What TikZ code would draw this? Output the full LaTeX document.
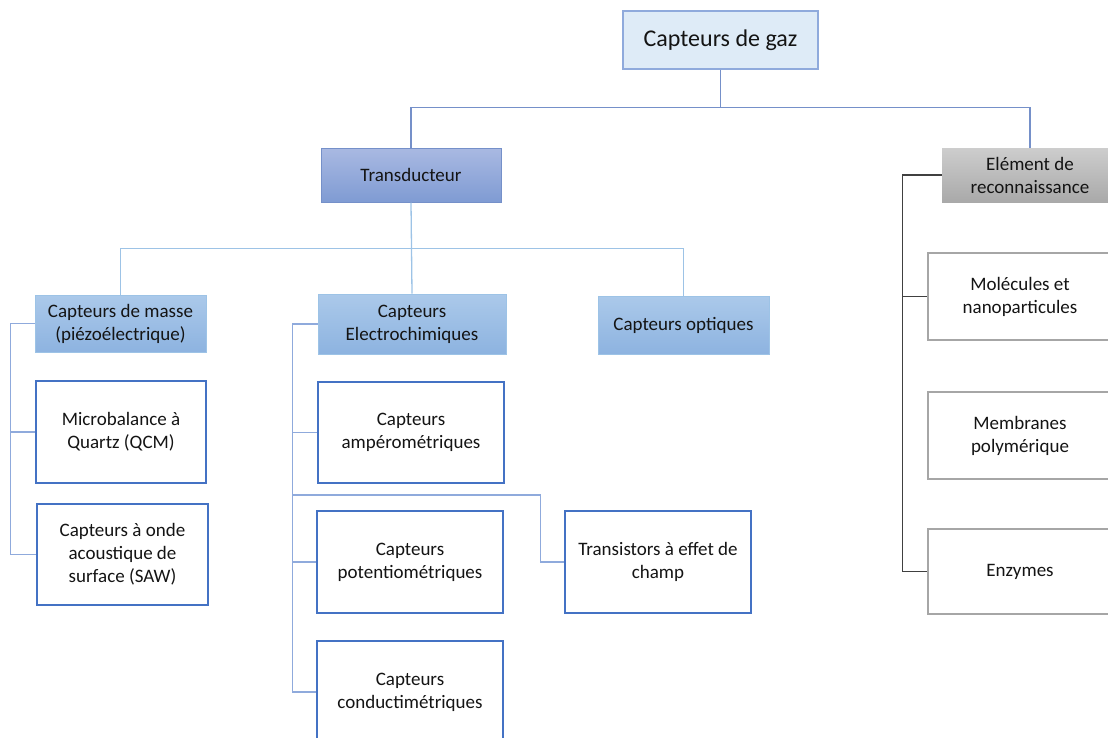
\documentclass[tikz,border=0pt]{standalone}
\usepackage{fontspec}
\setmainfont{Carlito}
\definecolor{rootfill}{HTML}{DEEBF7}
\definecolor{rootline}{HTML}{8FAADC}
\definecolor{transtop}{HTML}{A9B9E2}
\definecolor{transbot}{HTML}{7F9BD3}
\definecolor{transline}{HTML}{7590C9}
\definecolor{captop}{HTML}{ABC9EA}
\definecolor{capbot}{HTML}{8DB3E0}
\definecolor{capline}{HTML}{9DC3E6}
\definecolor{leafline}{HTML}{4472C4}
\definecolor{elemtop}{HTML}{CDCDCD}
\definecolor{elembot}{HTML}{A9A9A9}
\definecolor{grayline}{HTML}{A6A6A6}
\definecolor{txt}{HTML}{141414}

\begin{document}
\begin{tikzpicture}[x=1pt,y=-1pt,
	box/.style={inner sep=0pt,align=center,text=txt,font=\fontsize{19}{23}\selectfont},
	rootbox/.style={box,draw=rootline,fill=rootfill,line width=1.2pt,font=\fontsize{24}{28}\selectfont},
	transbox/.style={box,draw=transline,top color=transtop,bottom color=transbot,line width=1pt},
	capbox/.style={box,draw=capline,top color=captop,bottom color=capbot,line width=1pt},
	leafbox/.style={box,draw=leafline,fill=white,line width=1.3pt},
	elembox/.style={box,top color=elemtop,bottom color=elembot},
	graybox/.style={box,draw=grayline,fill=white,line width=1.2pt},
	link1/.style={draw=transline,line width=1.3pt},
	link2/.style={draw=capline,line width=1.3pt},
	link3/.style={draw=rootline,line width=1.3pt},
	link4/.style={draw=black!75,line width=1.1pt}]
	\useasboundingbox (0,0) rectangle (1108,737);
	\clip (0,0) rectangle (1108,737);
	% niveaux haut
	\node[rootbox,minimum width=195,minimum height=58] (root) at (720.5,40) {Capteurs de gaz};
	\node[transbox,minimum width=180,minimum height=54] (trans) at (411,175) {Transducteur};
	\node[elembox,minimum width=176,minimum height=54] (elem) at (1030,175) {Elément de\\reconnaissance};
	% familles de capteurs
	\node[capbox,minimum width=171,minimum height=57] (masse) at (120.5,323.5) {Capteurs de masse\\(piézoélectrique)};
	\node[capbox,minimum width=188,minimum height=60] (electro) at (412,324) {Capteurs\\Electrochimiques};
	\node[capbox,minimum width=171,minimum height=58] (optique) at (683.5,325) {Capteurs optiques};
	% feuilles
	\node[leafbox,minimum width=170,minimum height=102] (qcm) at (121,432) {Microbalance à\\Quartz (QCM)};
	\node[leafbox,minimum width=171,minimum height=101] (saw) at (122.5,554.5) {Capteurs à onde\\acoustique de\\surface (SAW)};
	\node[leafbox,minimum width=186,minimum height=101] (ampero) at (411,432.5) {Capteurs\\ampérométriques};
	\node[leafbox,minimum width=186,minimum height=102] (potentio) at (410,562) {Capteurs\\potentiométriques};
	\node[leafbox,minimum width=186,minimum height=102] (conducti) at (410,692) {Capteurs\\conductimétriques};
	\node[leafbox,minimum width=186,minimum height=102] (fet) at (658,562) {Transistors à effet de\\champ};
	\node[graybox,minimum width=184,minimum height=87] (molec) at (1020,296.5) {Molécules et\\nanoparticules};
	\node[graybox,minimum width=184,minimum height=87] (membr) at (1020,435.5) {Membranes\\polymérique};
	\node[graybox,minimum width=184,minimum height=85] (enzy) at (1020,571.5) {Enzymes};
	% liaisons
	\draw[link1] (root.south) -- ++(0,38) -| (trans.north);
	\draw[link1] (root.south) ++(0,38) -| (elem.north);
	\draw[link2] (trans.south) -- (electro.north);
	\draw[link2] (trans.south) ++(0,46) -| (masse.north);
	\draw[link2] (trans.south) ++(0,46) -| (optique.north);
	\draw[link3] (masse.west) -- ++(-24,0) |- (qcm.west);
	\draw[link3] (masse.west) ++(-24,0) |- (saw.west);
	\draw[link3] (electro.west) -- ++(-25,0) |- (ampero.west);
	\draw[link3] (electro.west) ++(-25,0) |- (potentio.west);
	\draw[link3] (electro.west) ++(-25,0) |- (conducti.west);
	\draw[link3] (electro.west) ++(-25,171) -- ++(248,0) |- (fet.west);
	\draw[link4] (elem.west) -- ++(-39,0) |- (molec.west);
	\draw[link4] (elem.west) ++(-39,0) |- (enzy.west);
\end{tikzpicture}
\end{document}
